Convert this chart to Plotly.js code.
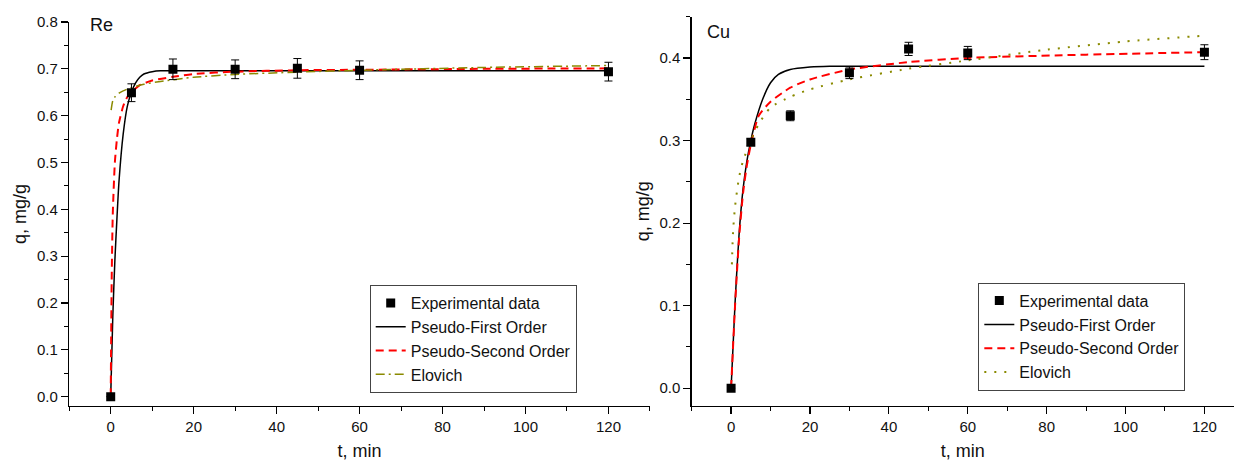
<!DOCTYPE html>
<html>
<head>
<meta charset="utf-8">
<script src="https://cdn.plot.ly/plotly-3.0.1.min.js"></script>
<style>html,body{margin:0;padding:0;background:#fff}#chart{width:1234px;height:466px}</style>
</head>
<body>
<div id="chart"></div>
<script>
// ---- Re panel data ----
const tRe = [0, 5, 15, 30, 45, 60, 120];
const qRe = [0, 0.649, 0.699, 0.699, 0.701, 0.697, 0.694];
const errRe = [0, 0.019, 0.022, 0.020, 0.021, 0.020, 0.020];

const tRePFO = [0, 0.5, 1, 1.5, 2, 3, 4, 5, 6, 7, 8, 10, 12, 15, 20, 30, 60, 120];
const qRePFO = [0, 0.17, 0.29, 0.38, 0.46, 0.56, 0.62, 0.65, 0.67, 0.682, 0.689, 0.694, 0.696, 0.696, 0.696, 0.696, 0.696, 0.696];

const tRePSO = [0, 0.25, 0.5, 1, 1.5, 2, 3, 4, 5, 7, 10, 15, 20, 30, 45, 60, 90, 120];
const qRePSO = [0, 0.26, 0.39, 0.50, 0.55, 0.585, 0.62, 0.64, 0.65, 0.665, 0.675, 0.683, 0.689, 0.694, 0.697, 0.698, 0.700, 0.701];

const tReElo = [0.1, 0.5, 1, 2, 3, 5, 8, 12, 20, 30, 45, 60, 90, 120];
const qReElo = [0.612, 0.632, 0.640, 0.648, 0.653, 0.660, 0.667, 0.673, 0.682, 0.688, 0.693, 0.697, 0.703, 0.707];

// ---- Cu panel data ----
const tCu = [0, 5, 15, 30, 45, 60, 120];
const qCu = [0, 0.298, 0.330, 0.382, 0.411, 0.406, 0.407];
const errCu = [0, 0.004, 0.006, 0.007, 0.008, 0.008, 0.009];

const tCuPFO = [0, 1, 2, 3, 4, 5, 6, 8, 10, 12, 15, 20, 25, 30, 60, 120];
const qCuPFO = [0, 0.103, 0.185, 0.24, 0.275, 0.30, 0.32, 0.35, 0.37, 0.38, 0.386, 0.389, 0.39, 0.39, 0.39, 0.39];

const tCuPSO = [0, 1, 2, 3, 4, 5, 7, 10, 15, 20, 30, 45, 60, 90, 120];
const qCuPSO = [0, 0.10, 0.18, 0.235, 0.27, 0.295, 0.33, 0.347, 0.364, 0.374, 0.386, 0.395, 0.400, 0.404, 0.407];

const tCuElo = [0.2, 0.5, 1, 2, 3, 5, 7, 10, 15, 20, 30, 45, 60, 80, 100, 120];
const qCuElo = [0.15, 0.19, 0.22, 0.255, 0.275, 0.30, 0.32, 0.34, 0.353, 0.362, 0.374, 0.387, 0.397, 0.41, 0.42, 0.427];

const names = ['Experimental data', 'Pseudo-First Order', 'Pseudo-Second Order', 'Elovich'];
const panelLabels = ['Re', 'Cu'];

const FONT = 'Liberation Sans, Arial, sans-serif';
const olive = '#8a8a00';

function expTrace(x, y, err, xa, ya, leg) {
  return {x: x, y: y, type: 'scatter', mode: 'markers', name: names[0], xaxis: xa, yaxis: ya, legend: leg,
    marker: {symbol: 'square', size: 9, color: '#000'},
    error_y: {type: 'data', array: err, visible: true, color: '#000', thickness: 1, width: 4}};
}
function lineTrace(x, y, name, color, dash, width, xa, ya, leg) {
  return {x: x, y: y, type: 'scatter', mode: 'lines', name: name, xaxis: xa, yaxis: ya, legend: leg,
    line: {color: color, dash: dash, width: width, shape: 'spline', smoothing: 0.6}};
}

const traces = [
  expTrace(tRe, qRe, errRe, 'x', 'y', 'legend'),
  lineTrace(tRePFO, qRePFO, names[1], '#000', 'solid', 1.5, 'x', 'y', 'legend'),
  lineTrace(tRePSO, qRePSO, names[2], '#ff0000', '8px,5px', 2, 'x', 'y', 'legend'),
  lineTrace(tReElo, qReElo, names[3], olive, '9px,4px,2px,4px', 1.5, 'x', 'y', 'legend'),
  expTrace(tCu, qCu, errCu, 'x2', 'y2', 'legend2'),
  lineTrace(tCuPFO, qCuPFO, names[1], '#000', 'solid', 1.5, 'x2', 'y2', 'legend2'),
  lineTrace(tCuPSO, qCuPSO, names[2], '#ff0000', '8px,5px', 2, 'x2', 'y2', 'legend2'),
  lineTrace(tCuElo, qCuElo, names[3], olive, '2px,8px', 2, 'x2', 'y2', 'legend2')
];
// draw experimental points on top
const ordered = [traces[1], traces[2], traces[3], traces[0], traces[5], traces[6], traces[7], traces[4]];
ordered.forEach(t => t.legendrank = names.indexOf(t.name) + 1);

function xAxis(domain, range, anchor) {
  return {domain: domain, range: range, anchor: anchor, showgrid: false, zeroline: false,
    showline: true, linecolor: '#000', linewidth: 1.4, ticks: 'outside', ticklen: 7, tickwidth: 1.2, tickcolor: '#000',
    tick0: 0, dtick: 20, tickfont: {family: FONT, size: 15, color: '#111'},
    minor: {dtick: 10, tick0: 0, ticks: 'outside', ticklen: 4, tickcolor: '#000', tickwidth: 1},
    title: {text: 't, min', font: {family: FONT, size: 18, color: '#111'}, standoff: 10}};
}
function yAxis(domain, range, anchor) {
  return {domain: domain, range: range, anchor: anchor, showgrid: false, zeroline: false,
    showline: true, linecolor: '#000', linewidth: 1.4, ticks: 'outside', ticklen: 7, tickwidth: 1.2, tickcolor: '#000',
    tick0: 0, dtick: 0.1, tickformat: '.1f', tickfont: {family: FONT, size: 15, color: '#111'},
    minor: {dtick: 0.05, tick0: 0, ticks: 'outside', ticklen: 4, tickcolor: '#000', tickwidth: 1},
    title: {text: 'q, mg/g', font: {family: FONT, size: 18, color: '#111'}, standoff: 5}};
}

const legendStyle = (x, y) => ({x: x, y: y, xanchor: 'left', yanchor: 'top', xref: 'paper', yref: 'paper',
  bgcolor: '#fff', bordercolor: '#444', borderwidth: 1, font: {family: FONT, size: 16, color: '#111'},
  tracegroupgap: 0, itemwidth: 30, traceorder: 'normal'});

const layout = {
  width: 1234, height: 466,
  margin: {l: 0, r: 0, t: 0, b: 60},
  paper_bgcolor: '#fff', plot_bgcolor: '#fff',
  font: {family: FONT},
  showlegend: true,
  xaxis: xAxis([0.0561, 0.5267], [-10, 130], 'y'),
  yaxis: yAxis([0, 0.9458], [-0.02, 0.8], 'x'),
  xaxis2: xAxis([0.5605, 1], [-10, 127.5], 'y2'),
  yaxis2: yAxis([0, 0.9589], [-0.0215, 0.45], 'x2'),
  legend: legendStyle(0.2996, 0.298),
  legend2: legendStyle(0.7928, 0.3037),
  annotations: [
    {text: panelLabels[0], xref: 'paper', yref: 'paper', x: 88 / 1234, y: (406 - 25) / 406, xanchor: 'left', yanchor: 'middle',
      showarrow: false, font: {family: FONT, size: 18, color: '#111'}},
    {text: panelLabels[1], xref: 'paper', yref: 'paper', x: 705 / 1234, y: (406 - 32) / 406, xanchor: 'left', yanchor: 'middle',
      showarrow: false, font: {family: FONT, size: 18, color: '#111'}}
  ]
};

Plotly.newPlot('chart', ordered, layout, {staticPlot: true, displayModeBar: false});
</script>
</body>
</html>
